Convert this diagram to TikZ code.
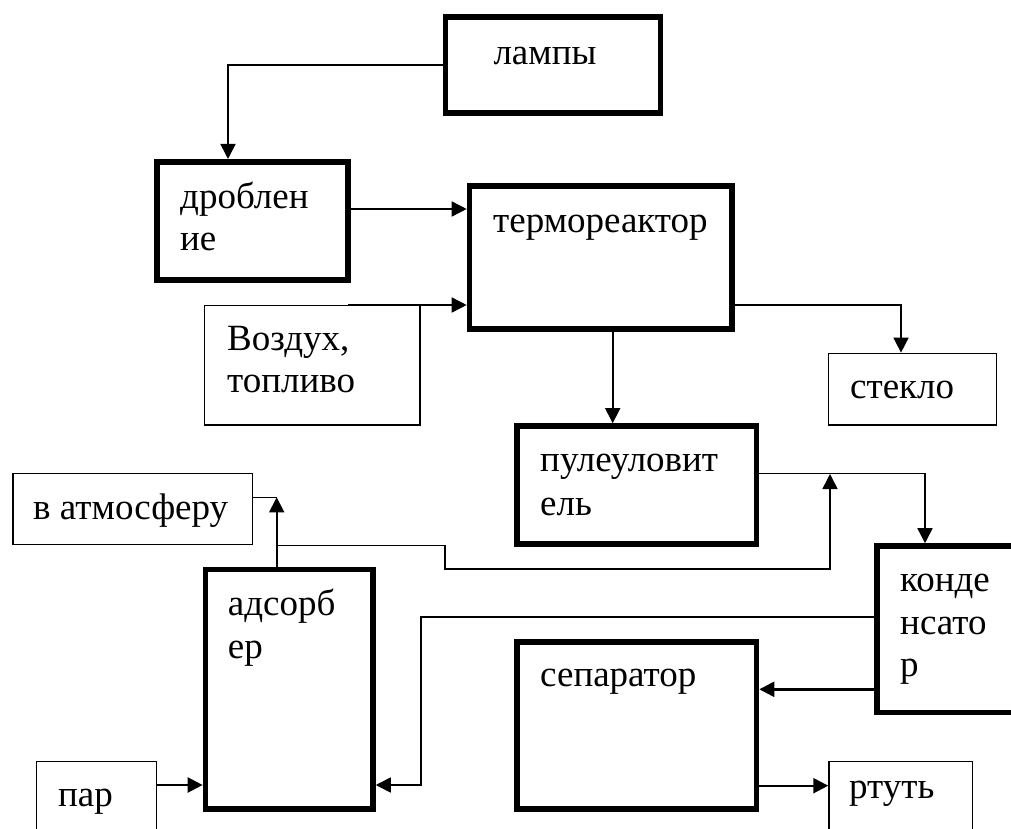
\documentclass[tikz,border=0pt]{standalone}
\usepackage{fontspec}
\setmainfont{Liberation Serif}
\usetikzlibrary{arrows.meta}
\tikzset{
  thickbox/.style={draw, line width=5.6pt, inner sep=0pt, rectangle},
  thinbox/.style={draw, line width=1.4pt, inner sep=0pt, rectangle},
  txt/.style={anchor=base west, inner sep=0pt, font=\fontsize{37}{42.5}\selectfont},
  conn/.style={line width=1.6pt},
  arr/.style={line width=1.6pt, -{Triangle[length=15pt,width=15pt]}},
  arrb/.style={line width=2.4pt, -{Triangle[length=15pt,width=15pt]}}
}
\begin{document}
\begin{tikzpicture}[x=1pt,y=-1pt]
\useasboundingbox (0,0) rectangle (1011,829);
\clip (0,0) rectangle (1011,829);
\fill[white] (0,0) rectangle (1011,829);

% boxes
\node[thickbox, minimum width=215pt, minimum height=96.4pt] (lamps) at (553,65) {};
\node[thickbox, minimum width=191.4pt, minimum height=118.4pt] (drob) at (252.5,221) {};
\node[thickbox, minimum width=262.7pt, minimum height=143pt] (termo) at (600.85,257.5) {};
\node[thinbox, minimum width=215.4pt, minimum height=119.4pt] (air) at (312.35,365.35) {};
\node[thinbox, minimum width=168pt, minimum height=71.7pt] (steklo) at (912.65,389.2) {};
\node[thickbox, minimum width=239.5pt, minimum height=118pt] (pulelo) at (636.75,485) {};
\node[thinbox, minimum width=239.4pt, minimum height=71.3pt] (atm) at (132.65,509) {};
\node[thickbox, minimum width=167.5pt, minimum height=239.5pt] (adsorb) at (289.2,689.2) {};
\node[thinbox, minimum width=120pt, minimum height=98.35pt] (par) at (96.65,810.8) {};
\node[thickbox, minimum width=163pt, minimum height=166.3pt] (konden) at (958.5,629.15) {};
\node[thickbox, minimum width=239.5pt, minimum height=167.2pt] (separ) at (636.75,725.4) {};
\node[thinbox, minimum width=143.7pt, minimum height=98.35pt] (rtut) at (900.8,810.8) {};

% texts
\node[txt] (t1) at (493.3,65) {лампы};
\node[txt] (t2) at (180,208.3) {дроблен};
\node[txt] (t3) at (180,250.3) {ие};
\node[txt] (t4) at (493,232.5) {термореактор};
\node[txt] (t5) at (227,350) {Воздух,};
\node[txt] (t6) at (227,392.7) {топливо};
\node[txt] (t7) at (850,398.3) {стекло};
\node[txt] (t8) at (540,471.7) {пулеуловит};
\node[txt] (t9) at (540,515) {ель};
\node[txt] (t10) at (33,519) {в атмосферу};
\node[txt] (t11) at (227.7,615) {адсорб};
\node[txt] (t12) at (227.7,658) {ер};
\node[txt] (t13) at (900,591.7) {конде};
\node[txt] (t14) at (900,634.2) {нсато};
\node[txt] (t15) at (900,676.7) {р};
\node[txt] (t16) at (540,686.7) {сепаратор};
\node[txt] (t17) at (58,806.7) {пар};
\node[txt] (t18) at (849,798.3) {ртуть};

% helper coordinates
\coordinate (c1) at (228,0);
\coordinate (yA) at (0,209);
\coordinate (a1) at (348,305);
\coordinate (c2) at (901,0);
\coordinate (c3) at (612.7,0);
\coordinate (yB) at (0,473.3);
\coordinate (c4) at (925,0);
\coordinate (c5) at (276.7,0);
\coordinate (yC) at (0,497.3);
\coordinate (b1) at (445,545.3);
\coordinate (b2) at (445,569);
\coordinate (b3) at (830,569);
\coordinate (b4) at (830,474);
\coordinate (yD) at (0,616.7);
\coordinate (d1) at (420.7,616.7);
\coordinate (d2) at (420.7,785);
\coordinate (yE) at (0,689.3);
\coordinate (yF) at (0,785.7);
\coordinate (yG) at (0,785);

% connectors
\draw[arr] (lamps.west) -| (c1 |- drob.north);
\draw[arr] (drob.east |- yA) -- (termo.west |- yA);
\draw[arr] (a1) -- (termo.west |- a1);
\draw[arr] (termo.east |- a1) -| (c2 |- steklo.north);
\draw[arr] (termo.south -| c3) -- (pulelo.north -| c3);
\draw[arr] (pulelo.east |- yB) -| (c4 |- konden.north);
\draw[arr] (adsorb.north -| c5) -- (c5 |- yC);
\draw[conn] (atm.east |- yC) -- (c5 |- yC);
\draw[arr] (c5 |- b1) -- (b1) -- (b2) -- (b3) -- (b4);
\draw[arr] (konden.west |- yD) -- (d1) -- (d2) -- (adsorb.east |- d2);
\draw[arrb] (konden.west |- yE) -- (separ.east |- yE);
\draw[arrb] (separ.east |- yF) -- (rtut.west |- yF);
\draw[arrb] (par.east |- yG) -- (adsorb.west |- yG);
\end{tikzpicture}
\end{document}
